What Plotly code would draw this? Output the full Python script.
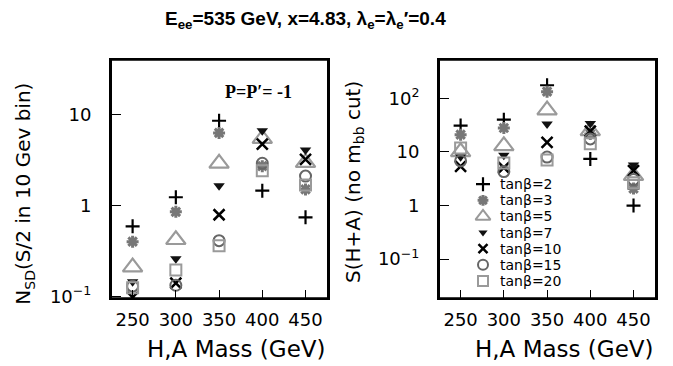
import plotly.graph_objects as go

# ---------------- data ----------------
masses = [250, 300, 350, 400, 450]
tanb_labels = ["tanβ=2", "tanβ=3", "tanβ=5", "tanβ=7", "tanβ=10", "tanβ=15", "tanβ=20"]

# left panel: N_SD (S/2 in 10 GeV bin)
nsd_tan2 = [0.59, 1.23, 8.5, 1.45, 0.74]
nsd_tan3 = [0.40, 0.85, 6.25, 2.7, 1.5]
nsd_tan5 = [0.21, 0.42, 2.9, 5.4, 2.95]
nsd_tan7 = [0.145, 0.26, 1.64, 6.6, 4.05]
nsd_tan10 = [0.098, 0.14, 0.79, 4.7, 3.2]
nsd_tan15 = [0.13, 0.133, 0.41, 2.9, 2.1]
nsd_tan20 = [0.125, 0.195, 0.36, 2.4, 1.68]

# right panel: S(H+A) (no m_bb cut)
s_tan2 = [31, 40, 175, 7.4, 1.0]
s_tan3 = [21, 28, 133, 21.6, 2.07]
s_tan5 = [10, 13, 60, 24.7, 3.6]
s_tan7 = [8.1, 8.7, 33, 33.7, 5.7]
s_tan10 = [5.4, 5.1, 15, 24.5, 4.5]
s_tan15 = [6.8, 4.3, 8.0, 17.5, 3.05]
s_tan20 = [11.8, 6.2, 7.1, 14.2, 2.65]

left_series = [nsd_tan2, nsd_tan3, nsd_tan5, nsd_tan7, nsd_tan10, nsd_tan15, nsd_tan20]
right_series = [s_tan2, s_tan3, s_tan5, s_tan7, s_tan10, s_tan15, s_tan20]

# ---------------- styles ----------------
styles = [
    dict(symbol="cross-thin-open", size=10, color="black", line=dict(color="black", width=2.2)),
    dict(symbol="asterisk-open", size=10, color="#777777", line=dict(color="#777777", width=3)),
    dict(symbol="triangle-up-open", size=17, color="#9a9a9a", line=dict(color="#9a9a9a", width=2.2)),
    dict(symbol="triangle-down", size=10, color="#111111", line=dict(color="#111111", width=0)),
    dict(symbol="x-thin-open", size=11, color="black", line=dict(color="black", width=2.5)),
    dict(symbol="circle-open", size=11, color="#666666", line=dict(color="#666666", width=2)),
    dict(symbol="square-open", size=11, color="#9a9a9a", line=dict(color="#9a9a9a", width=2)),
]
legend_styles = [
    dict(symbol="cross-thin-open", size=10, color="black", line=dict(color="black", width=2.2)),
    dict(symbol="asterisk-open", size=9, color="#777777", line=dict(color="#777777", width=3)),
    dict(symbol="triangle-up-open", size=13, color="#9a9a9a", line=dict(color="#9a9a9a", width=2)),
    dict(symbol="triangle-down", size=8, color="#111111", line=dict(color="#111111", width=0)),
    dict(symbol="x-thin-open", size=9, color="black", line=dict(color="black", width=2.5)),
    dict(symbol="circle-open", size=10, color="#666666", line=dict(color="#666666", width=2)),
    dict(symbol="square-open", size=10, color="#9a9a9a", line=dict(color="#9a9a9a", width=2)),
]

fig = go.Figure()
for lab, ys, st in zip(tanb_labels, left_series, styles):
    fig.add_trace(go.Scatter(x=masses, y=ys, mode="markers", marker=st, name=lab,
                             showlegend=False, xaxis="x", yaxis="y", cliponaxis=True))
for lab, ys, st in zip(tanb_labels, right_series, styles):
    fig.add_trace(go.Scatter(x=masses, y=ys, mode="markers", marker=st, name=lab,
                             showlegend=False, xaxis="x2", yaxis="y2", cliponaxis=True))

# hand-built legend (rows on an auxiliary axis, one row per series)
rows = list(range(len(tanb_labels)))
for i, (lab, st) in enumerate(zip(tanb_labels, legend_styles)):
    fig.add_trace(go.Scatter(x=[0.5], y=[i], mode="markers", marker=st, name=lab,
                             showlegend=False, xaxis="x3", yaxis="y3", hoverinfo="skip",
                             cliponaxis=False))

W, H = 673, 366
tickfont = dict(family="DejaVu Sans", size=18, color="black")

def minor_vals(lo, hi):
    v = []
    for e in range(lo, hi + 1):
        for d in range(2, 10):
            v.append(d * 10 ** e)
    return v

X_RANGE = [225, 476]
YL_RANGE = [-1.02, 1.6]
YR_RANGE = [-1.73, 2.72]
PT, PB = 61, 305
LX = [111, 328]
RX = [439, 656]
LEG_TOP = 180
ROW = 16.5

xdomL = [LX[0] / W, LX[1] / W]
xdomR = [RX[0] / W, RX[1] / W]
ydom = [1 - PB / H, 1 - PT / H]

xmain = dict(type="linear", range=X_RANGE, tickvals=masses, ticks="inside", ticklen=8,
             tickwidth=1, tickcolor="black", showline=True, linewidth=2, linecolor="black",
             mirror=True, showgrid=False, zeroline=False, tickfont=tickfont,
             ticklabelstandoff=4)
xminor = dict(type="linear", range=X_RANGE,
              tickvals=[x for x in range(230, 480, 10) if x not in masses],
              ticks="inside", ticklen=5, tickwidth=1, tickcolor="black",
              showticklabels=False, showline=False, showgrid=False, zeroline=False)
ymain = dict(type="log", ticks="inside", ticklen=10, tickwidth=1, tickcolor="black",
             showline=True, linewidth=2, linecolor="black", mirror=True, showgrid=False,
             zeroline=False, tickfont=tickfont, ticklabelstandoff=14)
yminor = dict(type="log", ticks="inside", ticklen=5, tickwidth=1, tickcolor="black",
              showticklabels=False, showline=False, showgrid=False, zeroline=False)

fig.update_layout(
    width=W, height=H, margin=dict(l=0, r=0, t=0, b=0),
    paper_bgcolor="white", plot_bgcolor="white",
    xaxis=dict(domain=xdomL, anchor="y", **xmain),
    yaxis=dict(domain=ydom, anchor="x", range=YL_RANGE,
               tickvals=[0.1, 1, 10], ticktext=["10<sup>−1</sup>", "1", "10"], **ymain),
    xaxis2=dict(domain=xdomR, anchor="y2", **xmain),
    yaxis2=dict(domain=ydom, anchor="x2", range=YR_RANGE,
                tickvals=[0.1, 1, 10, 100],
                ticktext=["10<sup>−1</sup>", "1", "10", "10<sup>2</sup>"], **ymain),
    xaxis3=dict(domain=[478 / W, 488 / W], range=[0, 1], anchor="y3", visible=False,
                fixedrange=True),
    yaxis3=dict(domain=[1 - (LEG_TOP + ROW * len(rows)) / H, 1 - LEG_TOP / H],
                range=[len(rows) - 0.5, -0.5], anchor="x3", visible=False, fixedrange=True),
    # minor-tick overlay axes
    xaxis4=dict(overlaying="x", anchor="y", side="bottom", **xminor),
    xaxis5=dict(overlaying="x2", anchor="y2", side="bottom", **xminor),
    yaxis4=dict(overlaying="y", anchor="x", side="left", range=YL_RANGE,
                tickvals=minor_vals(-2, 1), **yminor),
    yaxis5=dict(overlaying="y2", anchor="x2", side="left", range=YR_RANGE,
                tickvals=minor_vals(-2, 2), **yminor),
    showlegend=False,
)

annots = [
    dict(text="<b>E<sub>ee</sub>=535 GeV, x=4.83, λ<sub>e</sub>=λ<sub>e</sub>′=0.4</b>",
         x=305 / W, y=1 - 20 / H, xref="paper", yref="paper", showarrow=False,
         xanchor="center", yanchor="middle",
         font=dict(family="Liberation Sans", size=19, color="black")),
    dict(text="<b>P=P′= -1</b>", x=258 / W, y=1 - 94 / H, xref="paper", yref="paper",
         showarrow=False, xanchor="center", yanchor="middle",
         font=dict(family="Liberation Serif", size=18, color="black")),
    dict(text="H,A Mass (GeV)", x=LX[1] / W, y=1 - 357 / H, xref="paper", yref="paper",
         showarrow=False, xanchor="right", yanchor="middle",
         font=dict(family="DejaVu Sans", size=23, color="black")),
    dict(text="H,A Mass (GeV)", x=RX[1] / W, y=1 - 357 / H, xref="paper", yref="paper",
         showarrow=False, xanchor="right", yanchor="middle",
         font=dict(family="DejaVu Sans", size=23, color="black")),
    dict(text="N<sub>SD</sub>(S/2 in 10 Gev bin)", x=24 / W, y=1 - 198 / H,
         xref="paper", yref="paper", showarrow=False, textangle=-90,
         xanchor="center", yanchor="middle",
         font=dict(family="DejaVu Sans", size=20, color="black")),
    dict(text="S(H+A) (no m<sub>bb</sub> cut)", x=354 / W, y=1 - 186 / H,
         xref="paper", yref="paper", showarrow=False, textangle=-90,
         xanchor="center", yanchor="middle",
         font=dict(family="DejaVu Sans", size=20, color="black")),
]
for i, lab in enumerate(tanb_labels):
    annots.append(dict(text=lab, x=498 / W, y=i, xref="paper", yref="y3",
                       showarrow=False, xanchor="left", yanchor="middle",
                       font=dict(family="DejaVu Sans", size=14, color="black")))
fig.update_layout(annotations=annots)

# plot frames (full boxes round both panels)
for xs in (LX, RX):
    fig.add_shape(type="rect", xref="paper", yref="paper",
                  x0=xs[0] / W, x1=xs[1] / W, y0=ydom[0], y1=ydom[1],
                  line=dict(color="black", width=2), fillcolor="rgba(0,0,0,0)",
                  layer="above")

fig.write_html("out.html")
